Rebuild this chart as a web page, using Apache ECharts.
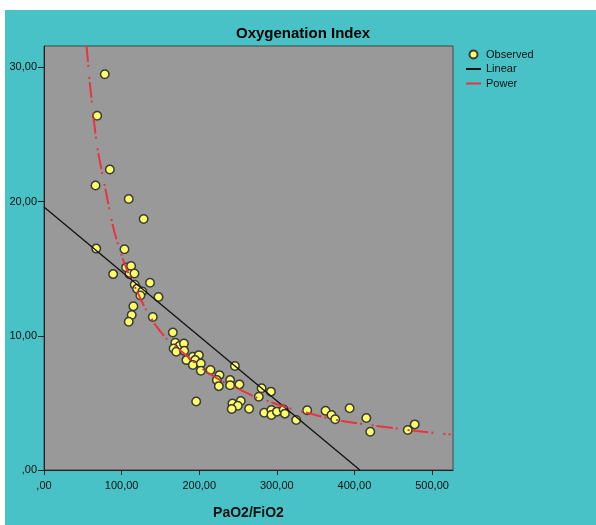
<!DOCTYPE html>
<html>
<head>
<meta charset="utf-8">
<script src="https://cdn.jsdelivr.net/npm/echarts@6/dist/echarts.min.js"></script>
<style>
  html, body { margin: 0; padding: 0; background: #fff; }
  body { width: 596px; height: 525px; position: relative; overflow: hidden; }
  #chart { position: absolute; left: 5px; top: 10px; width: 591px; height: 515px; }
</style>
</head>
<body>
<div id="chart"></div>
<script>
// observed points (PaO2/FiO2, oxygenation index)
const observedX = [78.3, 68.5, 84.8, 66.4, 109.2, 128.4, 67.3, 103.7, 105.8, 112.2,
  89.1, 110.1, 116.5, 136.6, 116.9, 119.9, 126.7, 124.2, 147.5, 115.2,
  113.0, 109.2, 140.2, 166.0, 169.1, 174.6, 180.3, 167.0, 170.4, 180.7,
  183.5, 191.8, 199.5, 194.8, 191.8, 202.1, 202.1, 214.5, 226.1, 222.7,
  225.3, 239.8, 239.8, 251.8, 246.0, 196.1, 242.8, 253.5, 249.7, 241.9,
  264.3, 276.8, 280.4, 292.4, 283.8, 293.0, 293.0, 300.1, 308.8, 310.4,
  325.0, 339.1, 362.8, 370.4, 375.2, 393.8, 415.3, 420.4, 468.7, 477.7];
const observedY = [29.5, 26.4, 22.4, 21.2, 20.2, 18.7, 16.5, 16.45, 15.1, 15.2,
  14.6, 14.6, 14.65, 13.95, 13.8, 13.5, 13.3, 13.0, 12.9, 12.2,
  11.55, 11.05, 11.4, 10.25, 9.49, 9.24, 9.43, 9.06, 8.81, 8.88,
  8.19, 8.44, 8.56, 8.19, 7.82, 7.94, 7.4, 7.45, 7.07, 6.7,
  6.25, 6.7, 6.31, 6.38, 7.75, 5.11, 4.95, 5.14, 4.79, 4.54,
  4.56, 5.46, 6.09, 5.84, 4.27, 4.47, 4.1, 4.35, 4.5, 4.2,
  3.72, 4.45, 4.42, 4.1, 3.78, 4.6, 3.87, 2.85, 2.98, 3.4];

// linear fit, read at its two ends
const linearX = [0, 407];
const linearY = [19.6, 0];

// power fit
const powerX = [54.9, 59.1, 68.6, 79.3, 90, 100, 107, 120, 130, 145, 158.5, 180, 205,
  227, 240, 259, 276, 285, 312, 330, 353, 375, 420, 454, 480, 524];
const powerY = [31.6, 28.8, 24.1, 20.9, 17.9, 16.0, 14.9, 13.3, 12.1, 10.7, 9.75, 8.7, 7.5,
  6.7, 6.33, 5.8, 5.35, 5.2, 4.68, 4.4, 4.05, 3.75, 3.35, 3.1, 2.9, 2.65];

const xTicks = [0, 100, 200, 300, 400, 500];
const yTicks = [0, 10, 20, 30];

const zip = (xs, ys) => xs.map((x, i) => [x, ys[i]]);
const fmt = (v) => (v === 0 ? ",00" : v.toFixed(2).replace(".", ","));

const myChart = echarts.init(document.getElementById("chart"));
const textColor = "#111";
const font = "'Liberation Sans', Arial, sans-serif";

const option = {
  backgroundColor: "#48c2c6",
  animation: false,
  textStyle: { fontFamily: font },
  title: {
    text: "Oxygenation Index",
    left: 231,
    top: 16,
    padding: 0,
    textStyle: { fontSize: 15, fontWeight: "bold", color: "#000", fontFamily: font },
  },
  legend: {
    orient: "vertical",
    left: 460,
    top: 39,
    padding: 0,
    itemWidth: 15,
    itemHeight: 8,
    itemGap: 3.5,
    textStyle: { fontSize: 11, color: textColor },
    data: [
      { name: "Observed", icon: "circle" },
      { name: "Linear", itemStyle: { opacity: 0 } },
      { name: "Power", itemStyle: { opacity: 0 }, lineStyle: { type: "solid" } },
    ],
  },
  grid: {
    left: 39,
    top: 36,
    width: 409,
    height: 424,
    show: true,
    backgroundColor: "#999999",
    borderColor: "#444",
    borderWidth: 1,
  },
  xAxis: {
    type: "value",
    min: 0,
    max: 527,
    name: "PaO2/FiO2",
    nameLocation: "middle",
    nameGap: 36,
    nameTextStyle: { fontSize: 14, fontWeight: "bold", color: "#111" },
    splitLine: { show: false },
    axisLine: { lineStyle: { color: "#222", width: 1 } },
    axisTick: { length: 5, customValues: xTicks, lineStyle: { color: "#222" } },
    axisLabel: {
      customValues: xTicks,
      formatter: fmt,
      fontSize: 11,
      color: textColor,
      margin: 10,
    },
  },
  yAxis: {
    type: "value",
    min: 0,
    max: 31.6,
    splitLine: { show: false },
    axisLine: { lineStyle: { color: "#222", width: 1 } },
    axisTick: { length: 6, customValues: yTicks, lineStyle: { color: "#222" } },
    axisLabel: {
      customValues: yTicks,
      formatter: fmt,
      fontSize: 11,
      color: textColor,
      margin: 7,
    },
  },
  series: [
    {
      name: "Observed",
      type: "scatter",
      z: 1,
      symbolSize: 8.5,
      itemStyle: { color: "#ffff66", borderColor: "#3a3a3a", borderWidth: 1.5, opacity: 1 },
      data: zip(observedX, observedY),
    },
    {
      name: "Linear",
      type: "line",
      z: 3,
      symbol: "none",
      lineStyle: { color: "#111", width: 1.3 },
      itemStyle: { color: "#111" },
      data: zip(linearX, linearY),
    },
    {
      name: "Power",
      type: "line",
      z: 3,
      symbol: "none",
      smooth: 0.3,
      lineStyle: { color: "#e8353d", width: 2, type: [16, 3, 2, 10, 2, 3] },
      itemStyle: { color: "#e8353d" },
      data: zip(powerX, powerY),
    },
  ],
};
myChart.setOption(option);
</script>
</body>
</html>
